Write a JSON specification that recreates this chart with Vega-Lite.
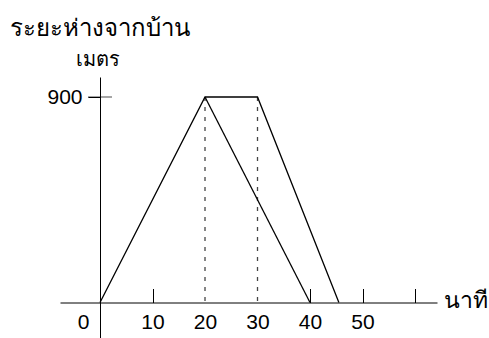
{
  "$schema": "https://vega.github.io/schema/vega-lite/v6.json",
  "width": 377,
  "height": 261,
  "autosize": {"type": "none"},
  "padding": {"left": 60, "top": 77, "right": 52, "bottom": 0},
  "background": "white",
  "config": {
    "view": {"stroke": null},
    "font": "Liberation Sans",
    "axis": {"grid": false, "domainColor": "black", "tickColor": "black", "labelColor": "black", "titleColor": "black", "labelFont": "Liberation Sans", "titleFont": "Noto Sans", "titleFontWeight": 300}
  },
  "title": {
    "text": "ระยะห่างจากบ้าน",
    "anchor": "start",
    "frame": "group",
    "font": "Noto Sans",
    "fontSize": 24,
    "fontWeight": 300,
    "color": "black",
    "dx": -50,
    "offset": 8
  },
  "datasets": {
    "solid": [
      {"segment": "A", "minute": 0, "meters": 0},
      {"segment": "A", "minute": 20, "meters": 900},
      {"segment": "A", "minute": 30, "meters": 900},
      {"segment": "A", "minute": 45.5, "meters": 0},
      {"segment": "B", "minute": 20, "meters": 900},
      {"segment": "B", "minute": 40, "meters": 0}
    ],
    "dashed": [
      {"segment": "at20", "minute": 20, "meters": 900},
      {"segment": "at20", "minute": 20, "meters": 0},
      {"segment": "at30", "minute": 30, "meters": 900},
      {"segment": "at30", "minute": 30, "meters": 0}
    ],
    "mark900": [
      {"minute": 0, "meters": 900}
    ]
  },
  "layer": [
    {
      "data": {"name": "dashed"},
      "mark": {"type": "line", "color": "#444", "strokeWidth": 1.3, "strokeDash": [4, 6]},
      "encoding": {
        "x": {"field": "minute", "type": "quantitative", "scale": {"domain": [-7.62, 64.19], "nice": false, "zero": false},
          "axis": {
            "orient": "bottom",
            "offset": -35.5,
            "values": [0, 10, 20, 30, 40, 50, 60],
            "tickSize": -14,
            "labelFontSize": 21,
            "labelPadding": 23,
            "labelExpr": "datum.value == 60 ? '' : datum.label",
            "tickOpacity": {"condition": {"test": "datum.value == 0 || datum.value == 20 || datum.value == 30", "value": 0}, "value": 1},
            "labelOffset": {"condition": {"test": "datum.value == 0", "value": -17}, "value": 0},
            "title": "นาที",
            "titleFontSize": 23,
            "titleAngle": 0,
            "titleAlign": "left",
            "titleBaseline": "middle",
            "titleX": 383,
            "titleY": -2
          }
        },
        "y": {"field": "meters", "type": "quantitative", "scale": {"domain": [-155.5, 987.6], "nice": false, "zero": false},
          "axis": {
            "orient": "left",
            "offset": -40,
            "values": [900],
            "tickSize": 12,
            "labelFontSize": 21,
            "labelPadding": 6,
            "title": "เมตร",
            "titleFontSize": 20,
            "titleAngle": 0,
            "titleAlign": "center",
            "titleBaseline": "alphabetic",
            "titleX": -3,
            "titleY": -12
          }
        },
        "detail": {"field": "segment"}
      }
    },
    {
      "data": {"name": "solid"},
      "mark": {"type": "line", "color": "black", "strokeWidth": 1.3},
      "encoding": {
        "x": {"field": "minute", "type": "quantitative"},
        "y": {"field": "meters", "type": "quantitative"},
        "detail": {"field": "segment"}
      }
    },
    {
      "data": {"name": "mark900"},
      "mark": {"type": "tick", "orient": "horizontal", "color": "black", "size": 24, "thickness": 1},
      "encoding": {
        "x": {"field": "minute", "type": "quantitative"},
        "y": {"field": "meters", "type": "quantitative"}
      }
    }
  ]
}
